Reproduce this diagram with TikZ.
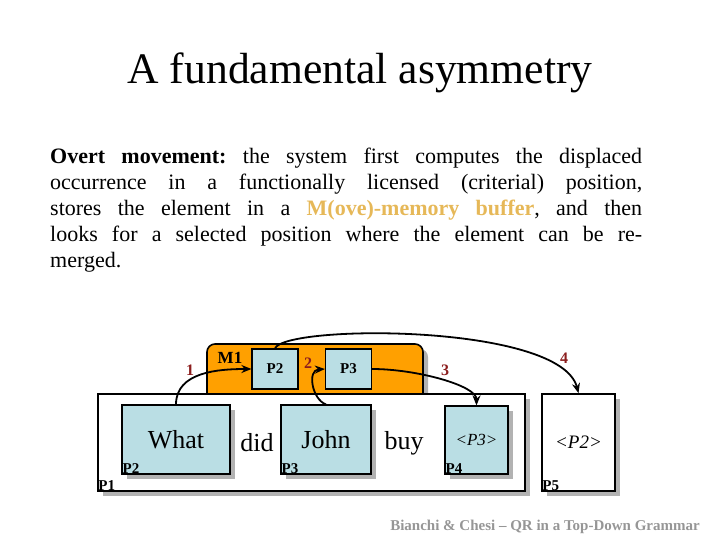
\documentclass[tikz,border=0pt]{standalone}
\usepackage{fontspec}
\setmainfont{Liberation Serif}
\usetikzlibrary{shadows,arrows.meta}
\definecolor{memorange}{RGB}{255,160,0}
\definecolor{cellblue}{RGB}{186,222,228}
\definecolor{stepred}{RGB}{140,30,30}
\definecolor{buffergold}{RGB}{230,184,88}
\definecolor{footgray}{RGB}{150,150,150}
\frenchspacing
\hyphenpenalty=10000
\begin{document}
\begin{tikzpicture}[x=1pt,y=-1pt,>={Stealth[length=10pt,width=8pt]},
    box/.style={draw,line width=1.6pt,inner sep=0pt,fill=white},
    cell/.style={draw,line width=1.2pt,inner sep=0pt,fill=cellblue},
    shade/.style={drop shadow={shadow xshift=5pt,shadow yshift=-5pt,fill=black!30,opacity=1}},
    tag/.style={font=\fontsize{15}{15}\selectfont\bfseries,inner sep=1pt},
    num/.style={font=\fontsize{16}{16}\selectfont\bfseries,text=stepred},
    word/.style={font=\fontsize{26}{26}\selectfont},
    move/.style={->,line width=1.8pt}]
  \useasboundingbox (0,0) rectangle (720,540);

  \node[anchor=base] (title) at (360,84) {\fontsize{43.6}{48}\selectfont A fundamental asymmetry};
  \node[anchor=north west,inner sep=0pt,text width=592pt,align=justify,
        font=\fontsize{22}{26}\selectfont] (para) at (50,147.5)
    {\textbf{Overt movement:} the system first computes the displaced\linebreak
     occurrence in a functionally licensed (criterial) position,\linebreak
     stores the element in a \textcolor{buffergold}{\textbf{M(ove)-memory buffer}}, and then\linebreak
     looks for a selected position where the element can be re-\linebreak
     merged.};

  % memory buffer and the sentence
  \node[box,shade,rounded corners=8pt,fill=memorange,minimum width=216pt,minimum height=60pt] (m1) at (315,374) {};
  \node[box,shade,minimum width=427pt,minimum height=97pt] (p1) at (311.5,442.5) {};
  \node[cell,tag,minimum width=46pt,minimum height=40pt] (m1p2) at (275,369) {P2};
  \node[cell,tag,minimum width=46pt,minimum height=40pt] (m1p3) at (348.5,369) {P3};
  \node[tag,font=\fontsize{17}{17}\selectfont\bfseries] (m1tag) at (230,358) {M1};

  \node[cell,shade,word,minimum width=108pt,minimum height=69pt] (what) at (176,439.5) {What};
  \node[cell,shade,word,minimum width=90pt,minimum height=69pt] (john) at (326,439.5) {John};
  \node[cell,shade,minimum width=63pt,minimum height=68pt,font=\fontsize{17}{17}\selectfont\itshape] (p3copy) at (476.5,440) {<P3>};
  \node[box,shade,minimum width=73pt,minimum height=97pt,font=\fontsize{19}{19}\selectfont\itshape] (p5) at (578.5,442.5) {<P2>};
  \node[word] (did) at (257,443) {did};
  \node[word] (buy) at (404,443) {buy};

  \node[tag,anchor=south west] (p1tag) at (p1.south west) {P1};
  \node[tag,anchor=south west] (whattag) at (what.south west) {P2};
  \node[tag,anchor=south west] (johntag) at (john.south west) {P3};
  \node[tag,anchor=south west] (p3tag) at (p3copy.south west) {P4};
  \node[tag,anchor=south west] (p5tag) at (p5.south west) {P5};

  % steps
  \node[num] (n1) at (190,370) {1};
  \node[num] (n2) at (308,363) {2};
  \node[num] (n3) at (445,370) {3};
  \node[num] (n4) at (564,358) {4};

  \draw[move] (what.north) to[out=90,in=180] (m1p2.west);
  \draw[move] (john.north) .. controls +(-14,-5) and +(-18,1) .. (m1p3.west);
  \draw[move] (m1p3.east) .. controls +(44,0) and +(0,-20) .. (p3copy.north);
  \draw[move] (m1p2.north) .. controls +(10,-24) and +(-18,-70) .. (p5.north);

  \node[font=\fontsize{15}{15}\selectfont\bfseries,text=footgray] (foot) at (545,527) {Bianchi \& Chesi -- QR in a Top-Down Grammar};
\end{tikzpicture}
\end{document}
